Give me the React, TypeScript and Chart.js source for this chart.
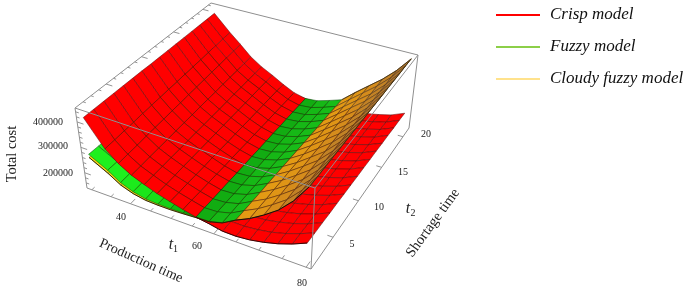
import React, { useEffect, useRef } from "react";
import { Chart, registerables } from "chart.js";

Chart.register(...registerables);

const t1Values = [30.5, 35, 38, 41, 44, 47, 50, 53, 56, 59, 62, 65, 68, 71, 74, 77, 80];
const t2Values = [1, 2.33, 3.67, 5, 6.33, 7.67, 9, 10.33, 11.67, 13, 14.33, 15.67, 17, 18.33, 19.67, 21];

// cost in thousands; rows follow t2Values, columns follow t1Values
const crispCost = [
  [427, 328, 287, 258, 238, 220, 206, 193, 181, 173, 163, 162, 167, 177, 191, 210, 234],
  [427, 330, 289, 259, 239, 220, 205, 192, 180, 172, 163, 162, 167, 176, 190, 209, 232],
  [427, 332, 291, 261, 239, 220, 205, 190, 178, 171, 162, 162, 166, 176, 189, 207, 231],
  [427, 334, 294, 262, 240, 221, 204, 189, 177, 170, 162, 162, 166, 175, 188, 206, 229],
  [427, 337, 296, 263, 240, 221, 203, 188, 176, 169, 162, 161, 165, 174, 187, 204, 228],
  [427, 339, 298, 265, 241, 221, 203, 186, 174, 168, 161, 161, 165, 173, 186, 203, 226],
  [427, 341, 300, 266, 242, 221, 202, 185, 173, 167, 161, 161, 165, 173, 185, 202, 225],
  [426, 343, 302, 267, 242, 221, 201, 184, 172, 166, 161, 161, 164, 172, 184, 200, 223],
  [426, 345, 305, 269, 243, 222, 201, 182, 170, 166, 160, 161, 164, 171, 183, 199, 222],
  [426, 347, 307, 270, 243, 222, 200, 181, 169, 165, 160, 161, 163, 170, 182, 197, 220],
  [426, 349, 309, 271, 244, 222, 199, 180, 168, 164, 160, 161, 163, 170, 181, 196, 219],
  [426, 351, 311, 273, 245, 222, 199, 178, 166, 163, 159, 161, 163, 169, 180, 195, 217],
  [426, 354, 313, 274, 245, 222, 198, 177, 165, 162, 159, 160, 162, 168, 179, 193, 216],
  [426, 356, 316, 275, 246, 223, 197, 176, 164, 161, 159, 160, 162, 167, 178, 192, 214],
  [426, 358, 318, 277, 246, 223, 197, 174, 162, 160, 158, 160, 161, 167, 177, 190, 213],
  [426, 360, 320, 278, 247, 223, 196, 173, 161, 159, 158, 160, 161, 166, 176, 189, 211],
];

// first 12 columns of t1Values (t1 = 30.5..65)
const fuzzyCost = [
  [282, 244, 212, 193, 182, 179, 178, 179, 181, 183, 196, 225],
  [281, 244, 213, 194, 183, 179, 178, 178, 180, 182, 195, 223],
  [280, 243, 213, 195, 184, 180, 177, 177, 178, 181, 194, 221],
  [280, 243, 214, 196, 185, 180, 177, 176, 177, 179, 193, 219],
  [279, 243, 215, 197, 185, 180, 176, 175, 176, 178, 192, 218],
  [278, 243, 215, 198, 186, 181, 176, 174, 174, 177, 191, 216],
  [277, 242, 216, 199, 187, 181, 176, 173, 173, 176, 190, 214],
  [276, 242, 217, 200, 188, 181, 175, 172, 172, 175, 189, 212],
  [276, 242, 217, 201, 189, 182, 175, 172, 170, 173, 187, 210],
  [275, 242, 218, 202, 190, 182, 174, 171, 169, 172, 186, 208],
  [274, 241, 219, 203, 191, 182, 174, 170, 168, 171, 185, 206],
  [273, 241, 219, 204, 192, 183, 174, 169, 166, 170, 184, 204],
  [272, 241, 220, 205, 192, 183, 173, 168, 165, 169, 183, 203],
  [272, 241, 221, 206, 193, 183, 173, 167, 164, 167, 182, 201],
  [271, 240, 221, 207, 194, 184, 172, 166, 162, 166, 181, 199],
  [270, 240, 222, 208, 195, 184, 172, 165, 161, 165, 180, 197],
];

// last 6 columns of t1Values (t1 = 65..80)
const cloudyCost = [
  [225, 250, 283, 322, 378, 455],
  [223, 249, 283, 322, 378, 454],
  [221, 248, 283, 323, 378, 454],
  [219, 248, 283, 323, 378, 453],
  [218, 247, 284, 324, 379, 452],
  [216, 247, 284, 324, 379, 452],
  [214, 246, 284, 324, 379, 451],
  [212, 245, 284, 325, 379, 450],
  [210, 245, 284, 325, 379, 450],
  [208, 244, 284, 326, 379, 449],
  [206, 244, 284, 326, 379, 448],
  [204, 243, 284, 326, 379, 448],
  [203, 243, 285, 327, 380, 447],
  [201, 243, 285, 327, 380, 446],
  [199, 242, 285, 328, 380, 446],
  [197, 242, 285, 328, 380, 445],
];

// the part of the cloudy surface that shows under the fuzzy one (t1 = 30.5..65, first two t2 rows)
const cloudyFront = [
  [270, 232, 202, 185, 176, 174, 174, 176, 179, 181, 195, 225],
  [269, 232, 203, 186, 177, 174, 174, 175, 178, 180, 194, 223],
];

const t1Ticks = [30, 35, 40, 45, 50, 55, 60, 65, 70, 75, 80];
const t2Ticks = [5, 10, 15, 20];
const zTicks = [200, 300, 400];

const seriesNames = ["Crisp model", "Fuzzy model", "Cloudy fuzzy model"];
const seriesColors = ["#ff0000", "#8ccf48", "#ffe28c"];

const fuzzyColors = ["#1ef01e", "#1ef01e", "#1ceb1c", "#1ae61a", "#18e018", "#16d016", "#12bc12", "#0ea40e", "#12ac12", "#16b816", "#18bc18"];
const cloudyColors = ["#e39a14", "#df9516", "#d58c1c", "#c28226", "#ad742c"];
const cloudyFrontColor = "#f5d818";

const T1 = [28.7, 81];
const T2 = [1, 21.5];
const Z = [140, 455];

type P = { x: number; y: number };
type Q = [number, number][];

const bottomQuad: Q = [[87, 188], [311, 269], [409, 128], [208, 74]];
const topQuad: Q = [[75, 108], [315, 188], [418, 55], [211, 3]];

function homography(q: Q) {
  const [[x0, y0], [x1, y1], [x2, y2], [x3, y3]] = q;
  const dx1 = x1 - x2, dx2 = x3 - x2, sx = x0 - x1 + x2 - x3;
  const dy1 = y1 - y2, dy2 = y3 - y2, sy = y0 - y1 + y2 - y3;
  const den = dx1 * dy2 - dx2 * dy1;
  const g = (sx * dy2 - dx2 * sy) / den;
  const h = (dx1 * sy - sx * dy1) / den;
  const a = x1 - x0 + g * x1, b = x3 - x0 + h * x3;
  const d = y1 - y0 + g * y1, e = y3 - y0 + h * y3;
  return (u: number, v: number): P => {
    const w = g * u + h * v + 1;
    return { x: (a * u + b * v + x0) / w, y: (d * u + e * v + y0) / w };
  };
}
const bottomMap = homography(bottomQuad);
const topMap = homography(topQuad);

function project(t1: number, t2: number, z: number): P {
  const u = (t1 - T1[0]) / (T1[1] - T1[0]);
  const v = (t2 - T2[0]) / (T2[1] - T2[0]);
  const w = (z - Z[0]) / (Z[1] - Z[0]);
  const b = bottomMap(u, v), t = topMap(u, v);
  return { x: b.x + (t.x - b.x) * w, y: b.y + (t.y - b.y) * w };
}

type Cell = { pts: P[]; color: string; border: string; z: number };

function cells(table: number[][], t1s: number[], t2s: number[], color: (c: number) => string, border: string, layer: (c: number) => number): Cell[] {
  const out: Cell[] = [];
  for (let r = 0; r < table.length - 1; r++) {
    for (let c = 0; c < t1s.length - 1; c++) {
      const corners: [number, number, number][] = [
        [t1s[c], t2s[r], table[r][c]],
        [t1s[c + 1], t2s[r], table[r][c + 1]],
        [t1s[c + 1], t2s[r + 1], table[r + 1][c + 1]],
        [t1s[c], t2s[r + 1], table[r + 1][c]],
      ];
      const pts = corners.map((k) => project(k[0], k[1], k[2]));
      pts.push(pts[0]);
      out.push({ pts, color: color(c), border, z: layer(c) });
    }
  }
  return out;
}

function rowEdge(t1s: number[], t2: number, zs: number[]): P[] {
  return zs.map((z, i) => project(t1s[i], t2, z));
}
function colEdge(t1: number, t2s: number[], zs: number[]): P[] {
  return zs.map((z, i) => project(t1, t2s[i], z));
}

function line(data: P[], color: string, width: number) {
  return { data, borderColor: color, borderWidth: width, showLine: true, pointRadius: 0, fill: false, tension: 0 };
}

function corner(a: number, b: number, c: number) {
  return project(T1[a], T2[b], Z[c]);
}
const gap: P = { x: NaN, y: NaN };

function boxLines(): P[] {
  const pairs = [
    [[0, 0, 1], [1, 0, 1]], [[1, 0, 1], [1, 1, 1]], [[1, 1, 1], [0, 1, 1]], [[0, 1, 1], [0, 0, 1]],
    [[0, 0, 0], [1, 0, 0]], [[1, 0, 0], [1, 1, 0]],
    [[0, 0, 0], [0, 0, 1]], [[1, 0, 0], [1, 0, 1]], [[1, 1, 0], [1, 1, 1]],
  ];
  const out: P[] = [];
  pairs.forEach(([p, q]) => out.push(corner(p[0], p[1], p[2]), corner(q[0], q[1], q[2]), gap));
  return out;
}

function tickLines(): P[] {
  const out: P[] = [];
  t1Ticks.forEach((t) => {
    const len = t % 20 === 0 ? 0.7 : 0.4;
    out.push(project(t, T2[0], Z[0]), project(t, T2[0] + len, Z[0]), gap);
  });
  t2Ticks.forEach((t) => {
    out.push(project(T1[1], t, Z[0]), project(T1[1] - 1.2, t, Z[0]), gap);
  });
  for (let t = 2; t <= 21; t += 1) {
    const len = t % 5 === 0 ? 1.6 : 0.7;
    out.push(project(T1[0], t, Z[1]), project(T1[0] + len, t, Z[1]), gap);
  }
  for (let z = 160; z <= 440; z += 20) {
    const len = z % 100 === 0 ? 1.6 : 0.8;
    out.push(project(T1[0], T2[0], z), project(T1[0] + len, T2[0], z), gap);
  }
  return out;
}

type Lbl = { text: string; x: number; y: number; font: string; angle?: number };
const serif = '"Liberation Serif"';
const labels: Lbl[] = [
  ...zTicks.map((z, i) => ({ text: String(z * 1000), x: [58, 53, 48][i], y: [173, 146, 122][i], font: `10px ${serif}` })),
  { text: String(40), x: 121, y: 217, font: `10px ${serif}` },
  { text: String(60), x: 197, y: 246, font: `10px ${serif}` },
  { text: String(80), x: 302, y: 283, font: `10px ${serif}` },
  ...t2Ticks.map((t, i) => ({ text: String(t), x: [352, 379, 403, 426][i], y: [244, 207, 172, 134][i], font: `10px ${serif}` })),
  { text: "Total cost", x: 12, y: 154, font: `14.5px ${serif}`, angle: -90 },
  { text: "Production time", x: 141, y: 261, font: `14px ${serif}`, angle: 24 },
  { text: "Shortage time", x: 433, y: 223, font: `14.5px ${serif}`, angle: -54 },
  { text: "t", x: 171, y: 245, font: `italic 16px ${serif}` },
  { text: "1", x: 175.5, y: 249, font: `10px ${serif}` },
  { text: "t", x: 408, y: 209, font: `italic 16px ${serif}` },
  { text: "2", x: 413, y: 213, font: `10px ${serif}` },
];

const textPlugin = {
  id: "texts",
  afterDraw(chart: any) {
    const ctx = chart.ctx;
    ctx.save();
    ctx.fillStyle = "#222222";
    ctx.textBaseline = "middle";
    ctx.textAlign = "center";
    labels.forEach((l) => {
      ctx.save();
      ctx.font = l.font;
      ctx.translate(l.x, l.y);
      if (l.angle) ctx.rotate((l.angle * Math.PI) / 180);
      ctx.fillText(l.text, 0, 0);
      ctx.restore();
    });
    ctx.textAlign = "left";
    ctx.font = `italic 17px ${serif}`;
    ctx.fillStyle = "#111111";
    seriesNames.forEach((n, i) => ctx.fillText(n, 550, 15 + i * 32));
    ctx.restore();
  },
};

export default function App() {
  const ref = useRef<HTMLCanvasElement>(null);
  useEffect(() => {
    document.body.style.margin = "0";
    const t1Left = t1Values.slice(0, 12);
    const t1Right = t1Values.slice(11);
    // paint order, bottom to top: cloudy front, fuzzy left of the crossing, crisp, fuzzy right of it, cloudy
    const all: Cell[] = [
      ...cells(cloudyFront, t1Left, t2Values, () => cloudyFrontColor, "rgba(120,100,0,0.6)", () => 0),
      ...cells(fuzzyCost, t1Left, t2Values, (c) => fuzzyColors[c], "rgba(10,70,10,0.75)", (c) => (c < 8 ? 1 : 3)),
      ...cells(crispCost, t1Values, t2Values, () => "#ff0000", "rgba(90,10,10,0.75)", () => 2),
      ...cells(cloudyCost, t1Right, t2Values, (c) => cloudyColors[c], "rgba(80,50,20,0.8)", () => 4),
    ];
    all.sort((a, b) => b.z - a.z);
    const polys = all.map((c) => ({
      data: c.pts,
      backgroundColor: c.color,
      borderColor: c.border,
      borderWidth: 0.7,
      showLine: true,
      pointRadius: 0,
      fill: "shape",
      tension: 0,
    }));
    const overlays = [
      line(boxLines(), "#8f8f8f", 1),
      line(tickLines(), "#777777", 0.8),
      line(rowEdge(t1Right, t2Values[0], cloudyCost[0]), "#151008", 1),
      line(colEdge(80, t2Values, cloudyCost.map((r) => r[5])), "#403010", 1),
      line(rowEdge(t1Right, t2Values[15], cloudyCost[15]), "#403010", 0.8),
      line(rowEdge(t1Values.slice(8), t2Values[0], crispCost[0].slice(8)), "#400000", 1),
      line(rowEdge(t1Left, t2Values[0], cloudyFront[0]), "#201800", 0.9),
      line([{ x: 496, y: 15 }, { x: 540, y: 15 }], seriesColors[0], 2),
      line([{ x: 496, y: 47 }, { x: 540, y: 47 }], seriesColors[1], 2),
      line([{ x: 496, y: 79 }, { x: 540, y: 79 }], seriesColors[2], 2),
    ];
    const chart = new Chart(ref.current!, {
      type: "scatter",
      data: { datasets: [...overlays, ...polys] as any },
      options: {
        animation: false,
        responsive: false,
        devicePixelRatio: 1,
        events: [],
        layout: { padding: 0 },
        scales: {
          x: { type: "linear", min: 0, max: 685, display: false },
          y: { type: "linear", min: 0, max: 287, reverse: true, display: false },
        },
        plugins: { legend: { display: false }, tooltip: { enabled: false } },
      },
      plugins: [textPlugin],
    });
    return () => chart.destroy();
  }, []);
  return <canvas ref={ref} width={685} height={287} style={{ display: "block" }} />;
}
